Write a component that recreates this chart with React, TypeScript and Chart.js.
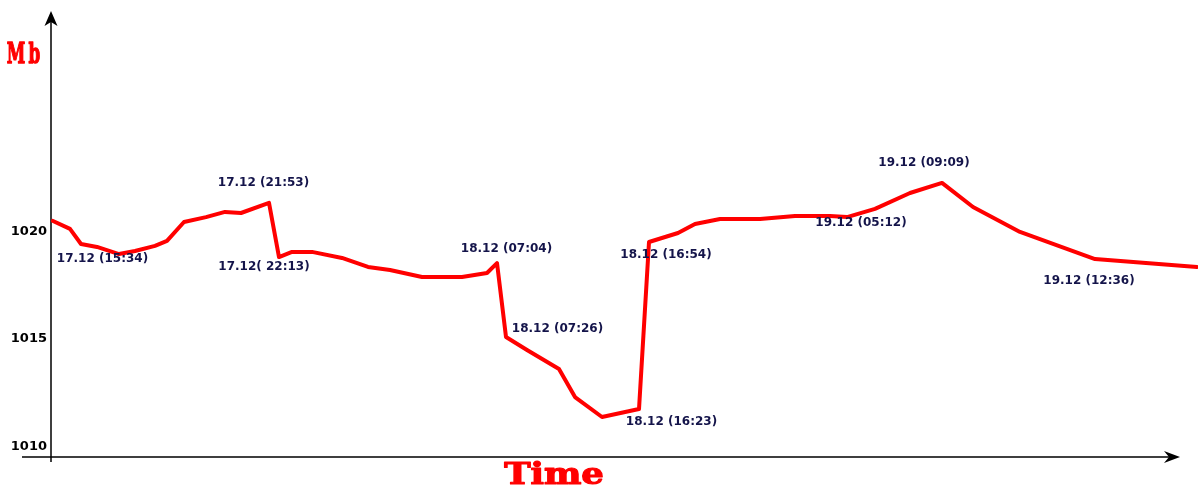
import React, { useEffect, useRef } from "react";
import { Chart, registerables } from "chart.js";

Chart.register(...registerables);

// Relative time position along the (unlabelled) time axis
const timeSteps = [
  0.2, 1.9, 3.0, 4.6, 6.8, 8.4, 10.4, 11.6, 13.3, 15.5, 17.4, 19.0, 21.8, 22.8,
  24.1, 26.1, 29.1, 31.7, 33.9, 37.1, 41.1, 43.6, 44.6, 45.5, 47.6, 50.8, 52.4,
  55.1, 58.8, 59.8, 62.7, 64.4, 66.9, 70.9, 74.4, 77.9, 79.6, 82.4, 85.9, 89.1,
  92.2, 96.9, 104.4, 114.6,
];

// Pressure in Mb
const pressureMb = [
  1020.48, 1020.11, 1019.41, 1019.27, 1018.94, 1019.08, 1019.32, 1019.55,
  1020.43, 1020.66, 1020.9, 1020.85, 1021.32, 1018.8, 1019.04, 1019.04, 1018.76,
  1018.34, 1018.2, 1017.87, 1017.87, 1018.06, 1018.52, 1015.08, 1014.48,
  1013.59, 1012.29, 1011.36, 1011.73, 1019.5, 1019.92, 1020.34, 1020.57,
  1020.57, 1020.71, 1020.71, 1020.66, 1021.04, 1021.78, 1022.25, 1021.13,
  1019.97, 1018.71, 1018.34,
];

const yTicks = [1010, 1015, 1020];
const yRange = [1009.5, 1030.2];
const xRange = [0, 114.7];

const annotationLabels = [
  "17.12 (15:34)",
  "17.12 (21:53)",
  "17.12( 22:13)",
  "18.12 (07:04)",
  "18.12 (07:26)",
  "18.12 (16:23)",
  "18.12 (16:54)",
  "19.12 (05:12)",
  "19.12 (09:09)",
  "19.12 (12:36)",
];
const annotationTime = [5.15, 21.25, 21.3, 45.55, 50.65, 62.05, 61.5, 81.0, 87.3, 103.8];
const annotationPressure = [
  1018.71, 1022.25, 1018.34, 1019.18, 1015.45, 1011.13, 1018.9, 1020.39, 1023.18, 1017.69,
];

const yTitle = "Mb";
const xTitle = "Time";

const decorPlugin = {
  id: "decor",
  beforeDatasetsDraw(chart: any) {
    const { ctx, chartArea: a } = chart;
    ctx.save();
    ctx.strokeStyle = "#000";
    ctx.lineWidth = 1.5;
    ctx.beginPath();
    ctx.moveTo(a.left, a.top + 8);
    ctx.lineTo(a.left, a.bottom + 5);
    ctx.moveTo(a.left - 29, a.bottom);
    ctx.lineTo(a.right - 26, a.bottom);
    ctx.stroke();
    ctx.fillStyle = "#000";
    // up arrow
    ctx.beginPath();
    ctx.moveTo(a.left, a.top - 1);
    ctx.lineTo(a.left + 6.5, a.top + 14);
    ctx.lineTo(a.left, a.top + 10);
    ctx.lineTo(a.left - 6.5, a.top + 14);
    ctx.closePath();
    ctx.fill();
    // right arrow
    const tipX = a.right - 18;
    ctx.beginPath();
    ctx.moveTo(tipX, a.bottom);
    ctx.lineTo(tipX - 16, a.bottom - 6);
    ctx.lineTo(tipX - 11, a.bottom);
    ctx.lineTo(tipX - 16, a.bottom + 6);
    ctx.closePath();
    ctx.fill();
    ctx.restore();
  },
  afterDatasetsDraw(chart: any) {
    const { ctx, chartArea: a, scales } = chart;
    ctx.save();
    ctx.fillStyle = "#14144a";
    ctx.font = "bold 12px 'DejaVu Sans'";
    ctx.textAlign = "center";
    ctx.textBaseline = "middle";
    annotationLabels.forEach((lab, i) => {
      const x = scales.x.getPixelForValue(annotationTime[i]);
      const y = scales.y.getPixelForValue(annotationPressure[i]);
      ctx.fillText(lab, x, y);
    });
    // axis titles
    ctx.fillStyle = "#ff0000";
    ctx.strokeStyle = "#ff0000";
    ctx.lineJoin = "round";
    ctx.textBaseline = "alphabetic";
    ctx.save();
    ctx.translate(a.left - 26, a.top + 51);
    ctx.scale(0.62, 1);
    ctx.font = "bold 27px 'DejaVu Serif'";
    (ctx as any).letterSpacing = "5px";
    ctx.lineWidth = 1.3;
    ctx.fillText(yTitle, 0, 0);
    ctx.strokeText(yTitle, 0, 0);
    ctx.restore();
    ctx.save();
    ctx.translate(a.left + 503, a.bottom + 27);
    ctx.scale(1.22, 1);
    ctx.font = "bold 29px 'DejaVu Serif'";
    ctx.lineWidth = 1.2;
    ctx.fillText(xTitle, 0, 0);
    ctx.strokeText(xTitle, 0, 0);
    ctx.restore();
    ctx.restore();
  },
};

export default function App() {
  const ref = useRef<HTMLCanvasElement | null>(null);
  useEffect(() => {
    if (!ref.current) return;
    const chart = new Chart(ref.current, {
      type: "line",
      data: {
        datasets: [
          {
            data: timeSteps.map((t, i) => ({ x: t, y: pressureMb[i] })),
            borderColor: "#ff0000",
            borderWidth: 4,
            pointRadius: 0,
            tension: 0,
            borderJoinStyle: "round",
            borderCapStyle: "round",
            fill: false,
          },
        ],
      },
      options: {
        animation: false,
        responsive: true,
        maintainAspectRatio: false,
        layout: { padding: { top: 12, bottom: 43, right: 2, left: 0 } },
        plugins: { legend: { display: false }, tooltip: { enabled: false } },
        scales: {
          x: { type: "linear", display: false, min: xRange[0], max: xRange[1] },
          y: {
            type: "linear",
            min: yRange[0],
            max: yRange[1],
            grid: { display: false, drawTicks: false },
            border: { display: false },
            afterBuildTicks: (s: any) => {
              s.ticks = yTicks.map((v) => ({ value: v }));
            },
            afterFit: (s: any) => {
              s.width = 51;
            },
            ticks: {
              padding: 4,
              color: "#000",
              font: { family: "'DejaVu Sans'", weight: "bold", size: 13 },
              callback: (v: any) => String(v),
            },
          },
        },
      },
      plugins: [decorPlugin],
    });
    return () => chart.destroy();
  }, []);
  return (
    <div style={{ position: "absolute", left: 0, top: 0, width: 1200, height: 500, background: "#fff" }}>
      <canvas ref={ref} />
    </div>
  );
}
